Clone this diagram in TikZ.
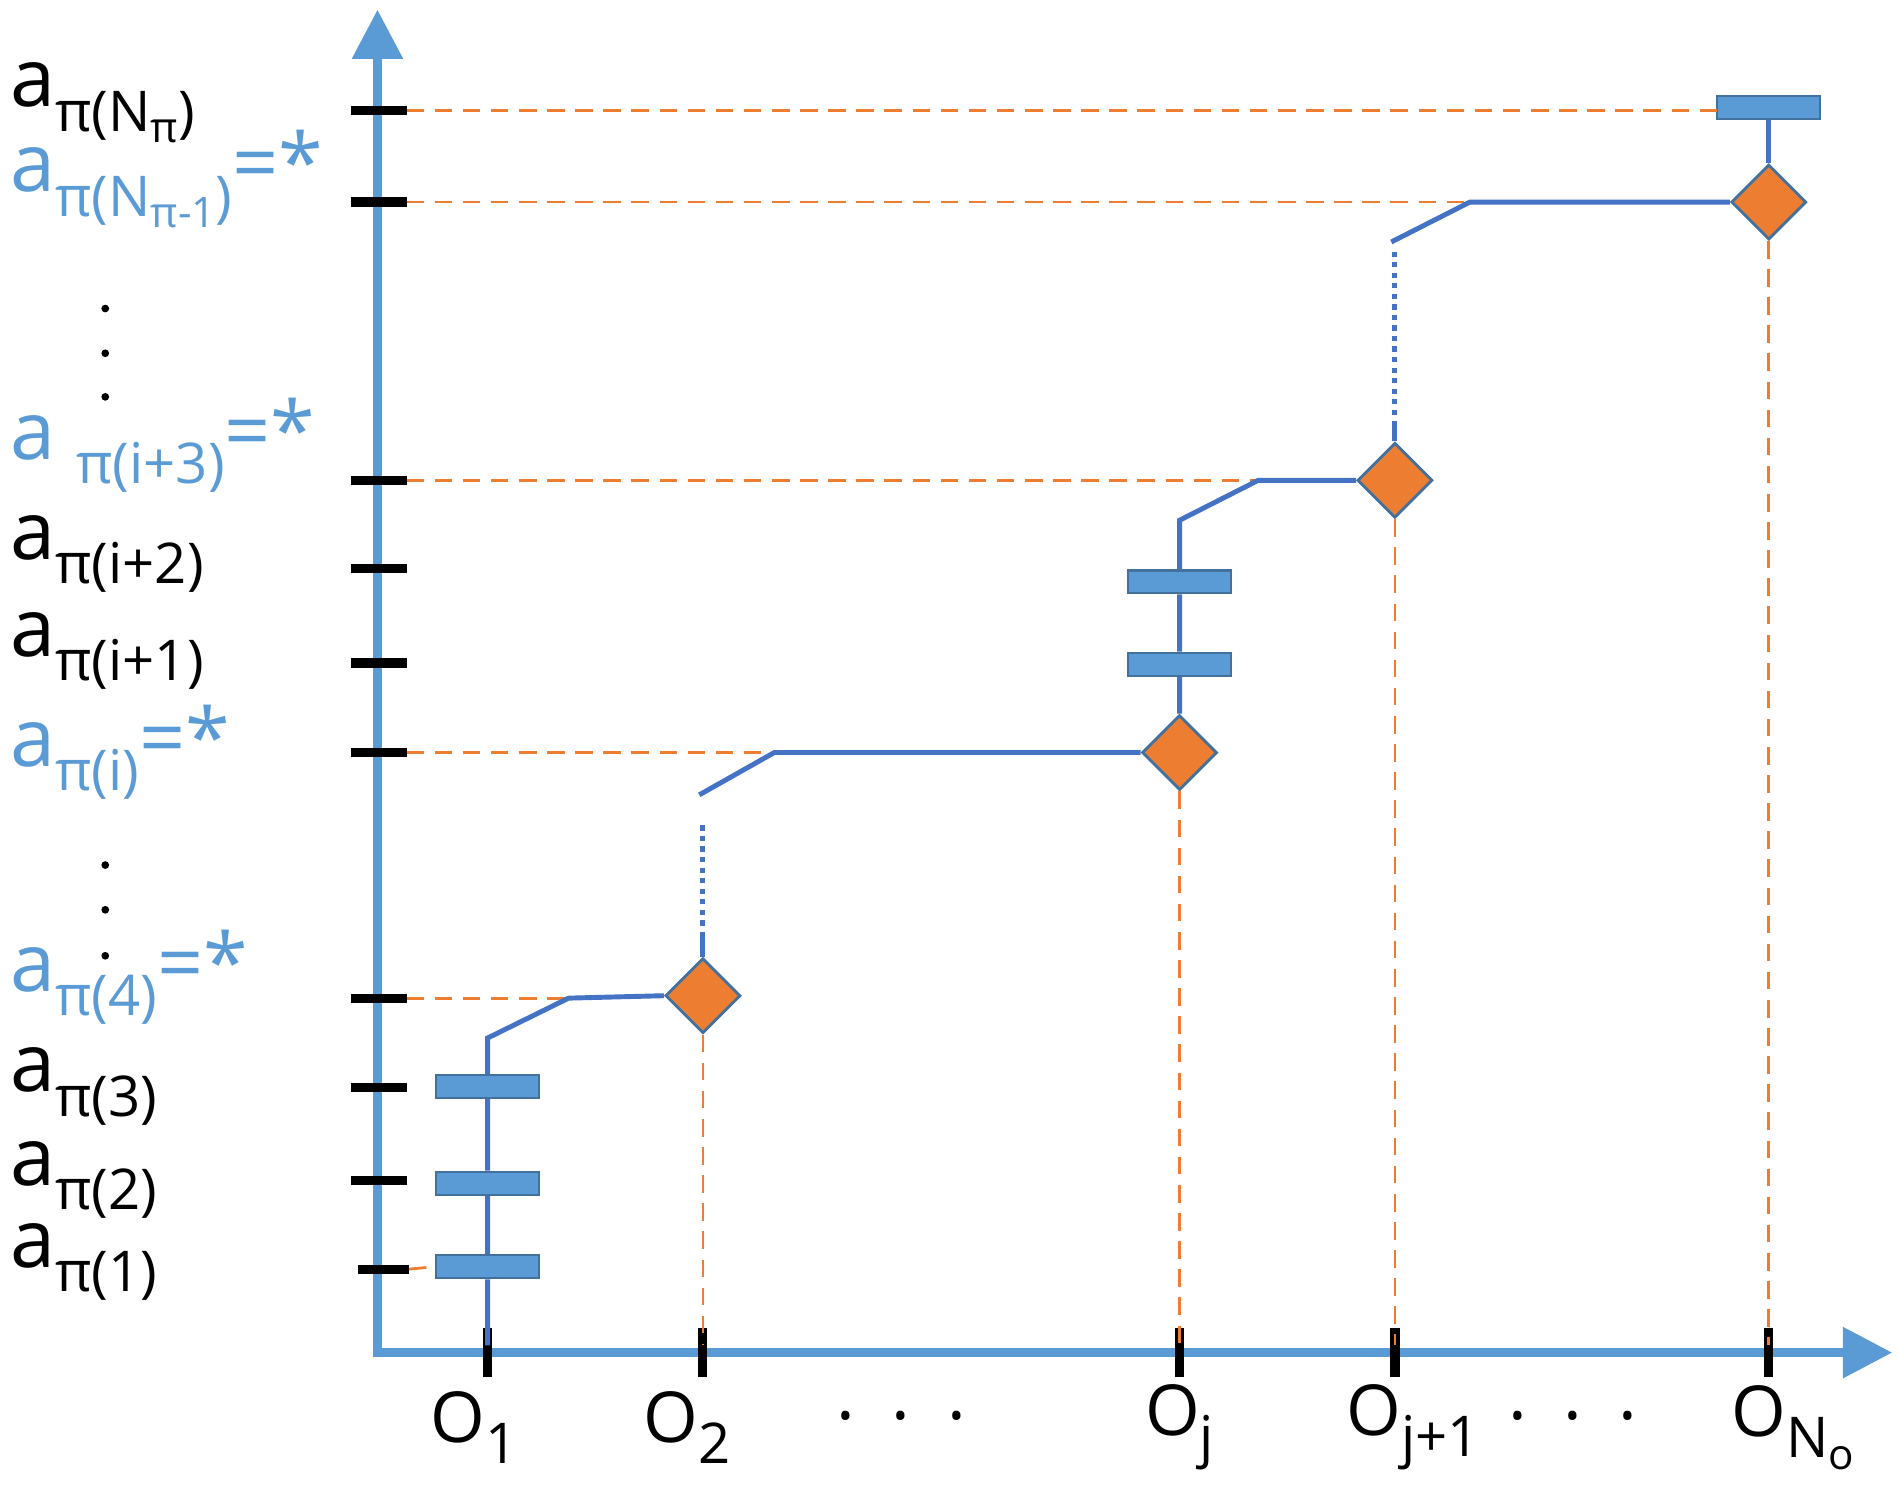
\documentclass[tikz,border=0pt]{standalone}
\usepackage{fontspec}
\setmainfont{Open Sans}
\usetikzlibrary{shapes.geometric,arrows.meta}
\definecolor{ax}{HTML}{5B9BD5}
\definecolor{ln}{HTML}{4472C4}
\definecolor{org}{HTML}{ED7D31}
\definecolor{edg}{HTML}{41719C}
\newcommand{\sbs}[1]{\raisebox{-0.3em}{\fontsize{16}{17}\selectfont #1}}
\newcommand{\ssbs}[1]{\raisebox{-0.2em}{\fontsize{12}{13}\selectfont #1}}
\begin{document}
\begin{tikzpicture}[x=0.0121cm,y=-0.0121cm,
 axis/.style={ax,line width=2.4pt,-{Triangle[length=14pt,width=14pt]}},
 tick/.style={black,line width=2.6pt},
 guide/.style={org,line width=0.8pt,dash pattern=on 5pt off 3pt},
 path/.style={ln,line width=1.4pt},
 dots/.style={ln,line width=1.4pt,dash pattern=on 1.5pt off 1.5pt},
 bar/.style={draw=edg,fill=ax,line width=0.6pt,minimum width=85*0.0121cm,minimum height=19*0.0121cm,inner sep=0pt},
 dia/.style={diamond,draw=edg,fill=org,line width=0.8pt,minimum width=62*0.0121cm,minimum height=62*0.0121cm,inner sep=0pt},
 lab/.style={anchor=west,inner sep=0pt,font=\fontsize{23}{25}\selectfont},
 olab/.style={inner sep=0pt,font=\fontsize{20}{22}\selectfont},
 blu/.style={text=ax}]
\useasboundingbox (0,0) rectangle (1568,1233);
% axes
\coordinate (ytop) at (312,8);
\coordinate (xend) at (1564,1118);
\draw[axis] (312,1122) -- (ytop);
\draw[axis] (308,1118) -- (xend);
% y ticks
\foreach \y/\n in {91/t1,167/t2,397/t3,470/t4,548/t5,622/t6,825/t7,899/t8,976/t9}{
  \coordinate (\n) at (336,\y);
  \draw[tick] (290,\y) -- (\n);}
\coordinate (t10) at (338,1049);
\draw[tick] (296,1049) -- (t10);
% x ticks
\foreach \x/\n in {403/x1,581/x2,975/x3,1153/x4,1462/x5}{
  \coordinate (\n) at (\x,1112);
  \draw[tick] (\x,1098) -- (\x,1138);}
% bars and diamonds
\node[bar] (b1) at (403,1047) {};
\node[bar] (b2) at (403,978) {};
\node[bar] (b3) at (403,898) {};
\node[bar] (b4) at (975,549) {};
\node[bar] (b5) at (975,481) {};
\node[bar] (b6) at (1462,89) {};
\node[dia] (d1) at (581,823) {};
\node[dia] (d2) at (975,622) {};
\node[dia] (d3) at (1153,397) {};
\node[dia] (d4) at (1462,167) {};
% orange guides
\coordinate (g1) at (1420,91);
\coordinate (g2) at (1215,167);
\coordinate (g3) at (1040,397);
\coordinate (g4) at (640,622);
\coordinate (g5) at (470,825);
\draw[guide] (t1) -- (g1);
\draw[guide] (t2) -- (g2);
\draw[guide] (t3) -- (g3);
\draw[guide] (t6) -- (g4);
\draw[guide] (t7) -- (g5);
\draw[guide] (t10) -- (b1.west);
\draw[guide] (d1.south) -- (x2);
\draw[guide] (d2.south) -- (x3);
\draw[guide] (d3.south) -- (x4);
\draw[guide] (d4.south) -- (x5);
% blue paths
\draw[path] (x1) -- (b1.south) (b1.north) -- (b2.south) (b2.north) -- (b3.south) (b3.north) -- (403,858) -- (g5) -- (d1.west);
\coordinate (p1) at (581,770);
\coordinate (p2) at (581,678);
\draw[path] (d1.north) -- (p1);
\draw[dots] (581,765) -- (p2);
\draw[path] (578,657) -- (g4) -- (d2.west);
\draw[path] (d2.north) -- (b4.south) (b4.north) -- (b5.south) (b5.north) -- (975,430) -- (g3) -- (d3.west);
\coordinate (p3) at (1153,348);
\draw[path] (d3.north) -- (p3);
\draw[dots] (1153,343) -- (1153,205);
\draw[path] (1150,200) -- (g2) -- (d4.west);
\draw[path] (d4.north) -- (b6.south);
% y labels
\node[lab] (l1) at (8,85) {a\sbs{π(N\ssbs{π})}};
\node[lab,blu] (l2) at (8,148) {a\sbs{π(N\ssbs{π-1})}=*};
\node[lab,blu] (l5) at (8,368) {a\ \sbs{π(i+3)}=*};
\node[lab] (l3) at (8,458) {a\sbs{π(i+2)}};
\node[lab] (l4) at (8,538) {a\sbs{π(i+1)}};
\node[lab,blu] (l6) at (8,622) {a\sbs{π(i)}=*};
\node[lab,blu] (l7) at (8,808) {a\sbs{π(4)}=*};
\node[lab] (l8) at (8,898) {a\sbs{π(3)}};
\node[lab] (l9) at (8,975) {a\sbs{π(2)}};
\node[lab] (l10) at (8,1043) {a\sbs{π(1)}};
\foreach \y/\n in {255/v1,292/v2,328/v3,715/v4,752/v5,790/v6}
  \fill (87,\y) circle (3.2) coordinate (\n);
% x labels
\node[olab] (o1) at (392,1180) {O\sbs{1}};
\node[olab] (o2) at (568,1180) {O\sbs{2}};
\node[olab] (o3) at (745,1170) {.\ \ .\ \ .};
\node[olab] (o4) at (975,1180) {O\sbs{j}};
\node[olab] (o5) at (1168,1180) {O\sbs{j+1}};
\node[olab] (o6) at (1300,1170) {.\ \ .\ \ .};
\node[olab] (o7) at (1482,1180) {O\sbs{N\ssbs{o}}};
\end{tikzpicture}
\end{document}
